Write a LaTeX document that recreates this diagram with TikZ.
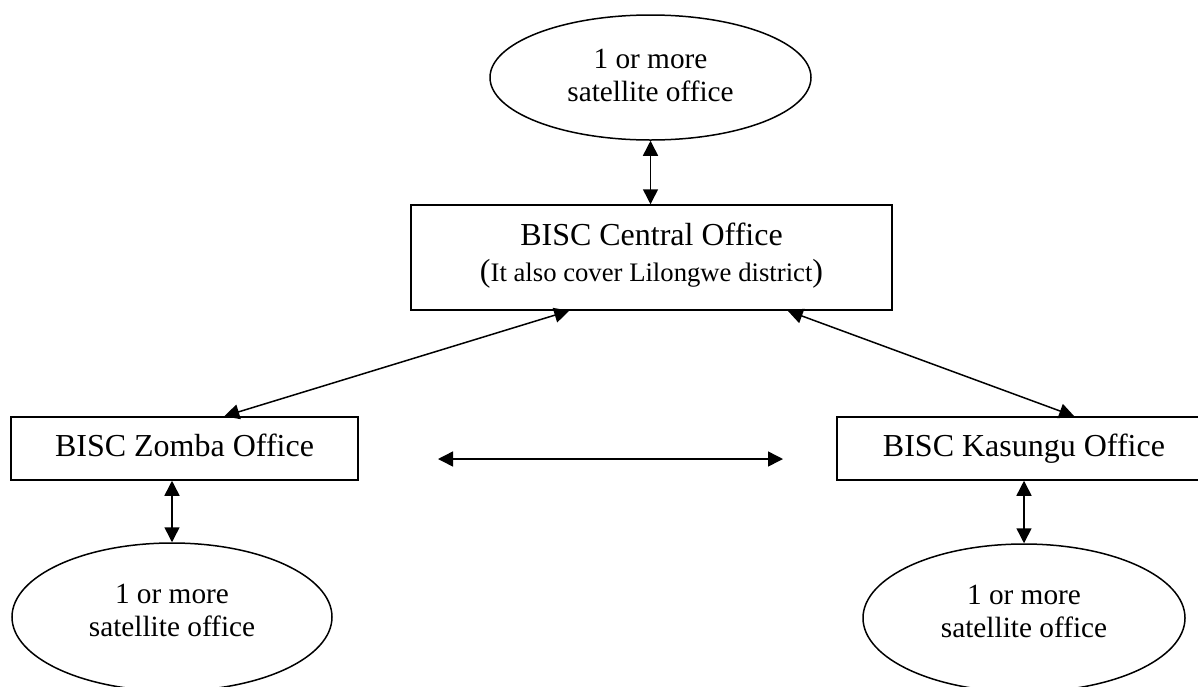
\documentclass[tikz,border=0pt]{standalone}
\usepackage{fontspec}
\setmainfont{Liberation Serif}
\usetikzlibrary{arrows.meta,shapes.geometric,calc}
\begin{document}
\begin{tikzpicture}[x=1pt,y=-1pt,
  line width=1.5pt,
  officebox/.style={draw, rectangle, inner sep=0pt, font=\fontsize{32}{36}\selectfont, align=center},
  officetext/.style={inner sep=0pt, font=\fontsize{32}{36}\selectfont, align=center},
  singleline/.style={text height=22pt, text depth=7pt},
  satellite/.style={draw, ellipse, inner sep=0pt},
  sattext/.style={inner sep=0pt, font=\fontsize{29.3}{33}\selectfont, align=center},
  arr/.style={{Triangle[length=15pt,width=15pt]}-{Triangle[length=15pt,width=15pt]}}]
\useasboundingbox (0,0) rectangle (1198,686);
\node[satellite, minimum width=321pt, minimum height=125pt] (sat1) at (650.5,77.5) {};
\node[sattext] (sat1t) at ([yshift=2pt]sat1.center) {1 or more\\satellite office};
\node[officebox, minimum width=481pt, minimum height=105pt] (central) at (651.5,257.5) {};
\node[officetext] (centralt) at ([yshift=2pt]central.center)
  {BISC Central Office\\({\fontsize{26.7}{30}\selectfont It also cover Lilongwe district})};
\node[officebox, singleline, minimum width=347pt, minimum height=63pt] (zomba) at (184.5,448.5) {BISC Zomba Office};
\node[officebox, singleline, minimum width=374pt, minimum height=63pt] (kasungu) at (1024,448.5) {BISC Kasungu Office};
\node[satellite, minimum width=320pt, minimum height=148pt] (sat2) at (172,617) {};
\node[sattext] (sat2t) at ([yshift=7pt]sat2.center) {1 or more\\satellite office};
\node[satellite, minimum width=322pt, minimum height=148pt] (sat3) at (1024,618) {};
\node[sattext] (sat3t) at ([yshift=7pt]sat3.center) {1 or more\\satellite office};
\coordinate (h1) at (438,459);
\coordinate (h2) at (783,459);
\draw[arr] (sat1.south) -- (sat1.south |- central.north);
\draw[arr] ([xshift=159pt]central.south west) -- ([xshift=214pt]zomba.north west);
\draw[arr] ([xshift=-105pt]central.south east) -- ([xshift=238pt]kasungu.north west);
\draw[arr] (h1) -- (h2);
\draw[arr] (sat2.north |- zomba.south) -- (sat2.north);
\draw[arr] (sat3.north |- kasungu.south) -- (sat3.north);
\end{tikzpicture}
\end{document}
